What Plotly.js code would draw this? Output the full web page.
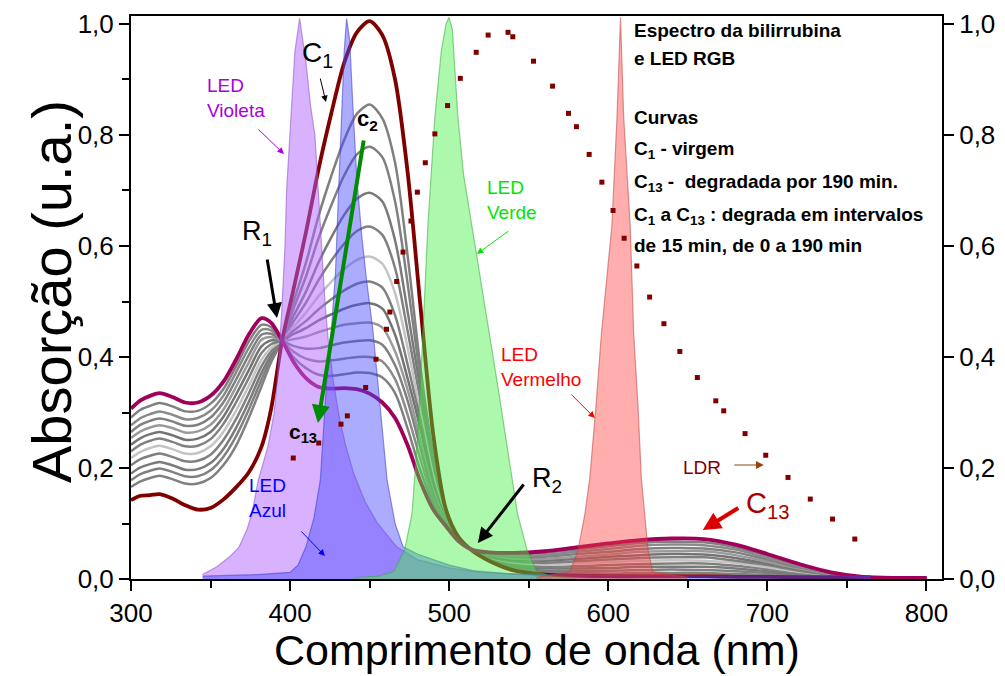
<!DOCTYPE html>
<html>
<head>
<meta charset="utf-8">
<script src="https://cdn.plot.ly/plotly-3.0.1.min.js"></script>
<style>html,body{margin:0;padding:0;background:#fff;}#chart{width:1005px;height:676px;}</style>
</head>
<body>
<div id="chart"></div>
<script>
// ---------------- DATA ----------------
// wavelength grid for bilirubin spectra (nm)
const WL = [300,306,312,318,326,334,342,350,358,366,374,382,388,395,
            402,410,418,426,434,442,450,458,466,474,482,490,498,506,515,
            525,540,560,580,600,620,640,660,680,700,720,740,760,780,800];

const C1 = [0.142,0.150,0.151,0.153,0.145,0.133,0.125,0.128,0.143,0.165,0.192,0.238,0.305,0.430,
            0.520,0.625,0.740,0.840,0.930,0.985,1.005,0.980,0.900,0.730,0.490,0.260,0.125,0.075,0.050,
            0.033,0.016,0.008,0.006,0.005,0.005,0.005,0.005,0.004,0.004,0.003,0.003,0.002,0.002,0.002];
const C2 = [0.166,0.176,0.182,0.186,0.180,0.172,0.172,0.182,0.205,0.240,0.290,0.347,0.390,0.430,
            0.498,0.570,0.655,0.727,0.791,0.838,0.855,0.830,0.750,0.580,0.380,0.225,0.120,0.074,0.050,
            0.034,0.019,0.012,0.011,0.010,0.011,0.011,0.011,0.009,0.007,0.005,0.004,0.003,0.002,0.002];
const C3 = [0.178,0.189,0.195,0.199,0.193,0.185,0.185,0.196,0.220,0.257,0.305,0.359,0.397,0.430,
            0.486,0.545,0.615,0.674,0.727,0.765,0.779,0.760,0.680,0.530,0.360,0.215,0.117,0.074,0.050,
            0.035,0.022,0.015,0.015,0.015,0.016,0.017,0.016,0.014,0.011,0.007,0.005,0.003,0.002,0.002];
const C4 = [0.190,0.201,0.207,0.211,0.205,0.197,0.198,0.209,0.234,0.272,0.319,0.371,0.403,0.430,
            0.473,0.518,0.571,0.616,0.656,0.685,0.696,0.680,0.610,0.480,0.340,0.205,0.115,0.073,0.050,
            0.037,0.024,0.019,0.019,0.020,0.022,0.022,0.022,0.019,0.014,0.009,0.005,0.003,0.002,0.002];
const C5 = [0.205,0.216,0.222,0.226,0.220,0.212,0.213,0.224,0.250,0.288,0.334,0.383,0.410,0.430,
            0.463,0.498,0.539,0.574,0.604,0.627,0.635,0.620,0.560,0.445,0.320,0.195,0.113,0.073,0.050,
            0.038,0.027,0.022,0.023,0.025,0.027,0.028,0.028,0.024,0.018,0.011,0.006,0.003,0.002,0.002];
const C6 = [0.218,0.229,0.236,0.240,0.234,0.226,0.227,0.239,0.265,0.303,0.348,0.395,0.416,0.430,
            0.454,0.480,0.510,0.536,0.558,0.575,0.581,0.568,0.515,0.415,0.300,0.186,0.111,0.072,0.050,
            0.039,0.030,0.026,0.028,0.030,0.033,0.034,0.033,0.029,0.021,0.013,0.007,0.003,0.002,0.002];
const C7 = [0.230,0.242,0.249,0.253,0.247,0.239,0.240,0.252,0.279,0.318,0.362,0.407,0.423,0.430,
            0.447,0.465,0.486,0.504,0.520,0.532,0.536,0.525,0.475,0.385,0.285,0.177,0.109,0.072,0.051,
            0.040,0.032,0.029,0.032,0.035,0.038,0.039,0.039,0.033,0.025,0.015,0.008,0.003,0.002,0.002];
const C8 = [0.242,0.254,0.261,0.265,0.259,0.251,0.253,0.265,0.292,0.332,0.376,0.419,0.430,0.430,
            0.441,0.452,0.466,0.477,0.487,0.494,0.497,0.487,0.440,0.360,0.270,0.168,0.107,0.071,0.051,
            0.042,0.035,0.033,0.036,0.040,0.043,0.045,0.044,0.038,0.028,0.017,0.008,0.003,0.002,0.002];
const C9 = [0.254,0.266,0.273,0.277,0.272,0.264,0.266,0.278,0.305,0.346,0.390,0.431,0.436,0.430,
            0.432,0.437,0.445,0.452,0.458,0.461,0.462,0.453,0.410,0.340,0.250,0.160,0.105,0.070,0.051,
            0.043,0.037,0.036,0.040,0.044,0.049,0.050,0.050,0.043,0.031,0.019,0.009,0.003,0.002,0.002];
const C10 = [0.265,0.278,0.285,0.289,0.284,0.276,0.278,0.291,0.318,0.359,0.403,0.440,0.442,0.430,
             0.420,0.415,0.416,0.421,0.426,0.429,0.430,0.422,0.385,0.320,0.235,0.152,0.102,0.070,0.051,
             0.044,0.040,0.040,0.045,0.049,0.054,0.056,0.055,0.048,0.035,0.021,0.010,0.004,0.002,0.002];
const C11 = [0.277,0.290,0.297,0.302,0.296,0.288,0.290,0.303,0.330,0.372,0.416,0.449,0.448,0.430,
             0.410,0.397,0.392,0.394,0.397,0.400,0.400,0.392,0.360,0.295,0.215,0.143,0.100,0.069,0.052,
             0.045,0.042,0.043,0.049,0.054,0.060,0.062,0.061,0.053,0.038,0.023,0.011,0.004,0.002,0.002];
const C12 = [0.291,0.305,0.312,0.317,0.311,0.302,0.303,0.316,0.342,0.383,0.428,0.458,0.454,0.430,
             0.400,0.380,0.368,0.366,0.369,0.372,0.371,0.363,0.335,0.270,0.195,0.135,0.098,0.069,0.052,
             0.047,0.045,0.047,0.053,0.059,0.065,0.067,0.066,0.057,0.042,0.025,0.011,0.004,0.002,0.002];
const C13 = [0.307,0.322,0.330,0.335,0.328,0.318,0.318,0.330,0.355,0.395,0.440,0.470,0.462,0.430,
             0.392,0.362,0.346,0.343,0.344,0.342,0.334,0.318,0.290,0.240,0.175,0.125,0.095,0.068,0.052,
             0.048,0.047,0.050,0.057,0.064,0.070,0.073,0.072,0.062,0.045,0.027,0.012,0.004,0.002,0.002];

// LED emission spectra (normalised)
const VIOLET_NM = [345,354,362,368,373,376,380,386,390,392,394.7,396.8,397.8,400,403,406,408,410,413,415.6,417.7,419.8,421.9,424,427,431,435,440,447,455,467,480,500,520,545,565];
const VIOLET_Y  = [0.008,0.022,0.040,0.058,0.090,0.118,0.178,0.238,0.300,0.358,0.480,0.600,0.700,0.800,0.950,1.010,0.970,0.930,0.850,0.800,0.700,0.600,0.500,0.430,0.360,0.290,0.240,0.190,0.140,0.100,0.058,0.035,0.020,0.012,0.008,0.005];

const BLUE_NM = [345,380,400,405,410,415,419,423,426,428.5,430.5,432,434,435.5,437.5,439.5,442,445,448,452,455,458,461,466,471,480,490,500,515,535,560,600,650,700,765];
const BLUE_Y  = [0.005,0.008,0.012,0.025,0.058,0.110,0.178,0.358,0.450,0.550,0.700,0.820,0.950,1.010,0.970,0.850,0.720,0.620,0.540,0.450,0.360,0.270,0.178,0.100,0.058,0.045,0.035,0.025,0.015,0.010,0.008,0.007,0.006,0.006,0.005];

const GREEN_NM = [440,455,465,472,476.6,480,483.5,486.6,491,495,498,500,502,504,505.5,509,514.3,520,525.6,531,536,540,543,549,555,565,580];
const GREEN_Y  = [0.002,0.005,0.013,0.052,0.117,0.247,0.442,0.637,0.832,0.950,1.000,1.012,0.990,0.900,0.832,0.730,0.637,0.540,0.442,0.340,0.247,0.170,0.117,0.052,0.013,0.005,0.002];

const RED_NM = [555,567,576,581,585.3,588.4,592.3,595.7,599,602.3,605.5,607.7,609.7,613.8,616,618.7,620.8,623,625,628,640,650];
const RED_Y  = [0.003,0.008,0.013,0.052,0.117,0.182,0.312,0.442,0.540,0.637,0.832,1.012,0.832,0.637,0.442,0.312,0.182,0.117,0.052,0.013,0.008,0.003];

// LDR spectral response (dotted)
const LDR_NM = [402,418,432,436,447.5,454,460.6,462.7,467,471,476,480,485,491,499,507,517,524.5,537,540,553,565,575,580,588,596,603,610,618,626,635,645,656,667.6,672.6,686,699,713,727,741,755];
const LDR_Y  = [0.218,0.245,0.279,0.294,0.345,0.396,0.450,0.481,0.536,0.589,0.645,0.697,0.750,0.802,0.853,0.902,0.949,0.980,0.985,0.977,0.933,0.888,0.839,0.815,0.765,0.715,0.664,0.614,0.564,0.508,0.460,0.410,0.363,0.321,0.303,0.262,0.223,0.183,0.144,0.108,0.072];

const X_TICKS = [300,400,500,600,700,800];
const Y_TICKS = [0,0.2,0.4,0.6,0.8,1.0];
const X_TITLE = 'Comprimento de onda (nm)';
const Y_TITLE = 'Absorção (u.a.)';

// ---------------- TRACES ----------------
const FONT = "Arial, 'Liberation Sans', sans-serif";
const grays = [C2,C3,C4,C5,C6,C7,C8,C9,C10,C11,C12];
const grayCols = ['#808080','#808080','#7a7a7a','#808080','#c4c4c4','#808080','#747474','#9a9a9a','#808080','#8a8a8a','#808080'];
const traces = [];
grays.forEach((g,i)=>traces.push({x:WL,y:g,type:'scatter',mode:'lines',
  line:{color:grayCols[i],width:2.5,shape:'spline',smoothing:0.8},hoverinfo:'skip'}));
traces.push({x:WL,y:C1,type:'scatter',mode:'lines',line:{color:'rgb(128,0,0)',width:3.8,shape:'spline',smoothing:0.8},hoverinfo:'skip'});
traces.push({x:WL,y:C13,type:'scatter',mode:'lines',line:{color:'rgb(160,0,90)',width:3.8,shape:'spline',smoothing:0.8},hoverinfo:'skip'});

function led(x,y,fill,line){
  return {x:x,y:y,type:'scatter',mode:'lines',fill:'tozeroy',fillcolor:fill,
          line:{color:line,width:1.2},hoverinfo:'skip'};
}
traces.push(led(VIOLET_NM,VIOLET_Y,'rgba(178,102,255,0.50)','rgba(140,80,200,0.55)'));
traces.push(led(BLUE_NM,BLUE_Y,'rgba(70,70,255,0.45)','rgba(60,60,200,0.55)'));
traces.push(led(GREEN_NM,GREEN_Y,'rgba(70,240,70,0.45)','rgba(60,170,60,0.55)'));
traces.push(led(RED_NM,RED_Y,'rgba(255,60,60,0.42)','rgba(190,70,70,0.55)'));
traces.push({x:LDR_NM,y:LDR_Y,type:'scatter',mode:'markers',
  marker:{symbol:'square',size:5,color:'rgb(128,0,0)'},hoverinfo:'skip'});
// right axis (same scale)
traces.push({x:[300],y:[0],type:'scatter',mode:'markers',yaxis:'y2',marker:{opacity:0},hoverinfo:'skip'});

// ---------------- ANNOTATIONS ----------------
// pixel -> data helpers for label placement
function X(px){ return 300 + (px-131)/1.5914; }
function Y(py){ return (579-py)/555; }
// pixel -> paper helpers (for texts outside the plot area)
function PX(px){ return (px-131)/811; }
function PY(py){ return (579-py)/563; }
const ann = [];
function label(px,py,text,color,size,anchor){
  ann.push({x:X(px),y:Y(py),xref:'x',yref:'y',text:text,showarrow:false,
    xanchor:anchor||'left',yanchor:'middle',align:'left',
    font:{family:FONT,size:size,color:color}});
}
function arrow(tx,ty,hx,hy,color,width,head,size){
  ann.push({x:X(hx),y:Y(hy),ax:X(tx),ay:Y(ty),xref:'x',yref:'y',axref:'x',ayref:'y',
    text:'',showarrow:true,arrowhead:head||2,arrowsize:size||1,arrowwidth:width,arrowcolor:color,standoff:0});
}
// axis titles
ann.push({x:PX(536.5),y:PY(650),xref:'paper',yref:'paper',text:X_TITLE,showarrow:false,
  xanchor:'center',yanchor:'middle',font:{family:FONT,size:43,color:'black'}});
ann.push({x:PX(51),y:PY(292),xref:'paper',yref:'paper',text:Y_TITLE,showarrow:false,textangle:-90,
  xanchor:'center',yanchor:'middle',font:{family:FONT,size:56,color:'black'}});
// LED labels
label(205,98,'LED<br>Violeta','rgb(170,0,220)',19);
arrow(257,128,284,154,'rgb(170,0,220)',1,2,1.3);
label(247,498,'LED<br>Azul','rgb(0,0,255)',19);
arrow(300,530,325,556,'rgb(0,0,255)',1,2,1.3);
label(485,200,'LED<br>Verde','rgb(0,230,0)',19);
arrow(510,230,477,254,'rgb(0,230,0)',1,2,1.3);
label(499,367,'LED<br>Vermelho','rgb(255,0,0)',19);
arrow(570,393,595,418,'rgb(255,0,0)',1,2,1.3);
label(681,467,'LDR','rgb(128,0,0)',19);
arrow(733,465,764,465,'rgb(140,70,20)',1.2,2,1.3);
// curve labels
label(744,505,'C<sub>13</sub>','rgb(170,0,0)',29);
arrow(740,507,703,530,'rgb(220,0,0)',4,2,0.9);
label(300,55,'C<sub>1</sub>','black',28);
arrow(320,77,326,102,'black',1,2,1.3);
label(355,120,'<b>c<sub>2</sub></b>','black',22);
label(287,433,'<b>c<sub>13</sub></b>','black',21);
arrow(364,139,318,423,'rgb(0,140,0)',4,2,0.9);
label(240,233,'R<sub>1</sub>','black',27);
arrow(267,258,277,318,'black',3,2,1);
label(530,480,'R<sub>2</sub>','black',27);
arrow(525,483,478,543,'black',3,2,1);
// text block
const BLOCK = [
  ['<b>Espectro da bilirrubina</b>',31],
  ['<b>e LED RGB</b>',59],
  ['<b>Curvas</b>',118],
  ['<b>C<sub>1</sub> - virgem</b>',150],
  ['<b>C<sub>13</sub> -  degradada por 190 min.</b>',183],
  ['<b>C<sub>1</sub> a C<sub>13</sub> : degrada em intervalos</b>',216],
  ['<b>de 15 min, de 0 a 190 min</b>',245]
];
BLOCK.forEach(b=>label(632,b[1],b[0],'black',19));

// ---------------- LAYOUT ----------------
const axisFont = {family:FONT,size:26,color:'black'};
const layout = {
  width:1005,height:676,
  margin:{l:131,r:63,t:16,b:97,pad:0},
  paper_bgcolor:'white',plot_bgcolor:'white',
  showlegend:false,
  separators:',.',
  font:{family:FONT,color:'black'},
  xaxis:{range:[300,809.8],tickvals:X_TICKS,ticktext:X_TICKS.map(String),
    showline:true,linecolor:'black',linewidth:2,mirror:true,automargin:false,
    ticks:'outside',ticklen:10,tickwidth:2,tickcolor:'black',
    minor:{dtick:50,tick0:300,ticks:'outside',ticklen:7,tickwidth:2,tickcolor:'black'},
    showgrid:false,zeroline:false,tickfont:{family:FONT,size:26,color:'black'}},
  yaxis:{range:[0,1.0144],tickvals:Y_TICKS,tickformat:'.1f',automargin:false,
    showline:true,linecolor:'black',linewidth:2,
    ticks:'outside',ticklen:10,tickwidth:2,tickcolor:'black',
    minor:{dtick:0.1,tick0:0,ticks:'outside',ticklen:7,tickwidth:2,tickcolor:'black'},
    showgrid:false,zeroline:false,tickfont:axisFont},
  yaxis2:{range:[0,1.0144],overlaying:'y',side:'right',tickvals:Y_TICKS,tickformat:'.1f',automargin:false,
    showline:true,linecolor:'black',linewidth:2,
    ticks:'outside',ticklen:10,tickwidth:2,tickcolor:'black',
    showgrid:false,zeroline:false,tickfont:axisFont},
  annotations:ann
};
Plotly.newPlot('chart',traces,layout,{staticPlot:true,displayModeBar:false});
</script>
</body>
</html>
